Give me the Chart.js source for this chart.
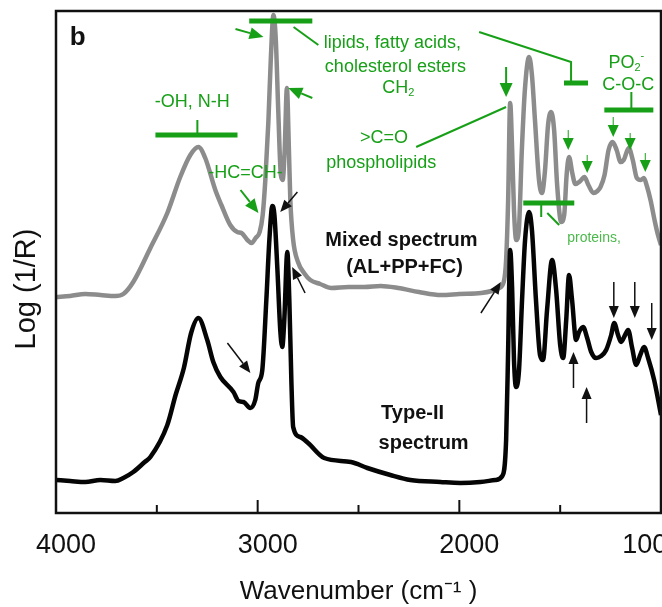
<!DOCTYPE html>
<html>
<head>
<meta charset="utf-8">
<script src="https://cdn.jsdelivr.net/npm/chart.js@4"></script>
<style>
  html, body { margin: 0; padding: 0; background: #fff; }
</style>
</head>
<body>
<canvas id="spectrum" width="662" height="607"></canvas>
<script>
// DATA (Log(1/R), arbitrary units)
const mixedWavenumbers = [4000, 3930, 3855, 3780, 3706, 3666, 3617, 3532, 3448, 3384, 3334, 3294, 3260, 3210, 3180, 3136, 3101, 3080, 3051, 3030, 3010, 2990, 2975, 2962, 2947, 2935, 2922, 2910, 2898, 2885, 2876, 2866, 2855, 2845, 2838, 2824, 2800, 2770, 2739, 2690, 2635, 2550, 2471, 2390, 2303, 2200, 2090, 2000, 1892, 1840, 1803, 1780, 1768, 1758, 1748, 1738, 1729, 1718, 1705, 1690, 1675, 1654, 1640, 1625, 1605, 1590, 1575, 1560, 1545, 1530, 1515, 1495, 1480, 1468, 1456, 1440, 1425, 1400, 1380, 1360, 1335, 1315, 1300, 1280, 1260, 1240, 1220, 1200, 1185, 1160, 1140, 1120, 1100, 1085, 1070, 1052, 1030, 1015, 1000];
const mixedValues = [2.16, 2.17, 2.19, 2.18, 2.17, 2.19, 2.31, 2.65, 3.00, 3.36, 3.58, 3.66, 3.55, 3.23, 3.08, 2.88, 2.81, 2.80, 2.73, 2.70, 2.75, 2.81, 2.98, 3.33, 3.91, 4.53, 4.98, 4.73, 4.03, 3.38, 3.33, 3.63, 4.25, 3.63, 3.13, 2.73, 2.51, 2.40, 2.33, 2.29, 2.25, 2.26, 2.26, 2.27, 2.25, 2.21, 2.18, 2.19, 2.20, 2.22, 2.25, 2.31, 2.53, 3.13, 4.10, 3.63, 3.03, 2.73, 2.83, 3.63, 4.23, 4.56, 4.38, 3.93, 3.33, 3.20, 3.43, 3.88, 4.01, 3.83, 3.28, 2.91, 2.98, 3.38, 3.56, 3.40, 3.29, 3.32, 3.36, 3.28, 3.20, 3.22, 3.26, 3.38, 3.63, 3.71, 3.63, 3.51, 3.53, 3.65, 3.53, 3.35, 3.33, 3.35, 3.27, 3.13, 2.91, 2.78, 2.68];

const typeIIWavenumbers = [4000, 3930, 3855, 3780, 3706, 3666, 3617, 3560, 3532, 3448, 3407, 3366, 3330, 3294, 3250, 3220, 3185, 3120, 3095, 3070, 3037, 3012, 2997, 2977, 2957, 2942, 2927, 2917, 2902, 2888, 2878, 2868, 2853, 2843, 2833, 2824, 2789, 2750, 2670, 2537, 2456, 2342, 2243, 2094, 1995, 1896, 1822, 1787, 1768, 1758, 1748, 1738, 1729, 1719, 1704, 1689, 1674, 1654, 1640, 1620, 1600, 1585, 1565, 1540, 1520, 1500, 1485, 1470, 1456, 1441, 1421, 1406, 1386, 1366, 1346, 1322, 1297, 1272, 1247, 1232, 1213, 1198, 1178, 1163, 1143, 1123, 1103, 1084, 1064, 1034, 1014, 1000];
const typeIIValues = [0.33, 0.32, 0.31, 0.33, 0.32, 0.35, 0.41, 0.51, 0.56, 0.88, 1.18, 1.45, 1.80, 1.95, 1.73, 1.51, 1.36, 1.21, 1.12, 1.11, 1.05, 1.13, 1.30, 1.43, 2.13, 2.73, 3.07, 2.98, 2.43, 1.83, 1.66, 1.93, 2.61, 2.13, 1.33, 0.86, 0.76, 0.70, 0.55, 0.51, 0.45, 0.38, 0.33, 0.31, 0.30, 0.31, 0.33, 0.37, 0.73, 1.63, 2.63, 2.23, 1.53, 1.26, 1.43, 2.13, 2.73, 3.01, 2.83, 2.13, 1.58, 1.53, 2.03, 2.53, 2.23, 1.68, 1.55, 1.93, 2.38, 2.13, 1.73, 1.81, 1.86, 1.75, 1.61, 1.55, 1.57, 1.63, 1.78, 1.90, 1.78, 1.71, 1.78, 1.83, 1.65, 1.48, 1.58, 1.66, 1.55, 1.33, 1.13, 0.98];

const majorTicks = [4000, 3000, 2000, 1000];
const minorTicks = [3500, 2500, 1500];

const GREEN = "#17a017";
const FONT = '"Liberation Sans", Arial, sans-serif';

// annotation positions are in data units: [wavenumber, Log(1/R)]
const labels = [
  { parts: [["b"]], at: [3892, 4.75], size: 26, weight: "bold", color: "#111" },
  { parts: [["-OH, N-H"]], at: [3324, 4.11], size: 18, color: GREEN },
  { parts: [["-HC=CH-"]], at: [3060, 3.40], size: 18, color: GREEN },
  { parts: [["lipids, fatty acids,"]], at: [2332, 4.70], size: 18, color: GREEN },
  { parts: [["cholesterol esters"]], at: [2317, 4.46], size: 18, color: GREEN },
  { parts: [["CH"], ["2", "sub"]], at: [2302, 4.25], size: 18, color: GREEN },
  { parts: [[">C=O"]], at: [2373, 3.75], size: 18, color: GREEN },
  { parts: [["phospholipids"]], at: [2387, 3.50], size: 18, color: GREEN },
  { parts: [["PO"], ["2", "sub"], ["-", "sup"]], at: [1172, 4.50], size: 18, color: GREEN },
  { parts: [["C-O-C"]], at: [1162, 4.28], size: 18, color: GREEN },
  { parts: [["proteins,"]], at: [1332, 2.75], size: 14, color: "#4cb84c" },
  { parts: [["Mixed spectrum"]], at: [2287, 2.73], size: 20, weight: "bold", color: "#111" },
  { parts: [["(AL+PP+FC)"]], at: [2272, 2.46], size: 20, weight: "bold", color: "#111" },
  { parts: [["Type-II"]], at: [2232, 1.00], size: 20, weight: "bold", color: "#111" },
  { parts: [["spectrum"]], at: [2177, 0.70], size: 20, weight: "bold", color: "#111" }
];

const greenLines = [
  { pts: [[3507, 3.78], [3100, 3.78]], w: 5 },
  { pts: [[3299, 3.93], [3299, 3.78]], w: 2 },
  { pts: [[3042, 4.92], [2729, 4.92]], w: 5 },
  { pts: [[2822, 4.86], [2699, 4.68]], w: 2 },
  { pts: [[1902, 4.81], [1446, 4.51], [1446, 4.30]], w: 2 },
  { pts: [[1481, 4.30], [1362, 4.30]], w: 5 },
  { pts: [[1147, 4.21], [1147, 4.03]], w: 2 },
  { pts: [[1281, 4.03], [1038, 4.03]], w: 5 },
  { pts: [[1768, 4.06], [2214, 3.66]], w: 2 },
  { pts: [[1683, 3.10], [1430, 3.10]], w: 5 },
  { pts: [[1594, 3.10], [1594, 2.96]], w: 2 },
  { pts: [[1564, 3.00], [1505, 2.88]], w: 2 }
];

const arrows = [
  // green, big
  { from: [3110, 4.84], to: [2971, 4.76], color: GREEN, stem: 2, head: [14, 12] },
  { from: [2729, 4.15], to: [2848, 4.25], color: GREEN, stem: 2, head: [14, 12] },
  { from: [3085, 3.23], to: [2996, 3.00], color: GREEN, stem: 2, head: [14, 12] },
  { from: [1768, 4.46], to: [1768, 4.16], color: GREEN, stem: 2, head: [14, 13] },
  // green, small
  { from: [1460, 3.83], to: [1460, 3.63], color: GREEN, stem: 1, head: [12, 11] },
  { from: [1366, 3.58], to: [1366, 3.40], color: GREEN, stem: 1, head: [12, 11] },
  { from: [1237, 3.96], to: [1237, 3.76], color: GREEN, stem: 1, head: [12, 11] },
  { from: [1153, 3.80], to: [1153, 3.63], color: GREEN, stem: 1, head: [12, 11] },
  { from: [1078, 3.60], to: [1078, 3.41], color: GREEN, stem: 1, head: [12, 11] },
  // black
  { from: [3150, 1.70], to: [3036, 1.40], color: "#111", stem: 1.5, head: [12, 10] },
  { from: [2803, 3.21], to: [2888, 3.01], color: "#111", stem: 1.5, head: [12, 10] },
  { from: [2765, 2.20], to: [2829, 2.46], color: "#111", stem: 1.5, head: [12, 10] },
  { from: [1893, 2.00], to: [1794, 2.31], color: "#111", stem: 1.5, head: [12, 10] },
  { from: [1234, 2.31], to: [1234, 1.95], color: "#111", stem: 1.5, head: [12, 10] },
  { from: [1130, 2.31], to: [1130, 1.95], color: "#111", stem: 1.5, head: [12, 10] },
  { from: [1046, 2.10], to: [1046, 1.73], color: "#111", stem: 1.5, head: [12, 10] },
  { from: [1434, 1.25], to: [1434, 1.61], color: "#111", stem: 1.5, head: [12, 10] },
  { from: [1369, 0.90], to: [1369, 1.26], color: "#111", stem: 1.5, head: [12, 10] }
];

function toPoints(xs, ys) {
  return xs.map((x, i) => ({ x: x, y: ys[i] }));
}

function drawRich(ctx, item, x, y) {
  const size = item.size;
  const weight = item.weight || "normal";
  const fontFor = k => weight + " " + (k ? Math.round(size * 0.62) : size) + "px " + FONT;
  let total = 0;
  item.parts.forEach(([t, k]) => { ctx.font = fontFor(k); total += ctx.measureText(t).width; });
  let cx = x - total / 2;
  ctx.fillStyle = item.color;
  ctx.textAlign = "left";
  ctx.textBaseline = "middle";
  item.parts.forEach(([t, k]) => {
    ctx.font = fontFor(k);
    const dy = k === "sub" ? size * 0.3 : (k === "sup" ? -size * 0.38 : 0);
    ctx.fillText(t, cx, y + dy);
    cx += ctx.measureText(t).width;
  });
}

function drawArrow(ctx, x1, y1, x2, y2, color, stem, headLen, headW) {
  const a = Math.atan2(y2 - y1, x2 - x1);
  const bx = x2 - headLen * Math.cos(a), by = y2 - headLen * Math.sin(a);
  ctx.strokeStyle = color;
  ctx.lineWidth = stem;
  ctx.beginPath();
  ctx.moveTo(x1, y1);
  ctx.lineTo(bx, by);
  ctx.stroke();
  ctx.fillStyle = color;
  ctx.beginPath();
  ctx.moveTo(x2, y2);
  ctx.lineTo(bx + headW / 2 * Math.sin(a), by - headW / 2 * Math.cos(a));
  ctx.lineTo(bx - headW / 2 * Math.sin(a), by + headW / 2 * Math.cos(a));
  ctx.closePath();
  ctx.fill();
}

// frame, inward ticks, y title and all the figure notes
const figurePlugin = {
  id: "figureNotes",
  afterDraw(chart) {
    const ctx = chart.ctx;
    const area = chart.chartArea;
    const xs = chart.scales.x, ys = chart.scales.y;
    const px = w => xs.getPixelForValue(w);
    const py = v => ys.getPixelForValue(v);

    ctx.save();
    ctx.strokeStyle = "#111";
    ctx.lineWidth = 2.5;
    ctx.strokeRect(area.left, area.top, area.right - area.left, area.bottom - area.top);

    ctx.lineWidth = 2;
    majorTicks.concat(minorTicks).forEach(t => {
      const len = majorTicks.includes(t) ? 13 : 8;
      ctx.beginPath();
      ctx.moveTo(px(t), area.bottom);
      ctx.lineTo(px(t), area.bottom - len);
      ctx.stroke();
    });

    // y axis title
    ctx.save();
    ctx.translate(area.left - 29, py(2.24));
    ctx.rotate(-Math.PI / 2);
    ctx.font = "29px " + FONT;
    ctx.fillStyle = "#111";
    ctx.textAlign = "center";
    ctx.textBaseline = "middle";
    ctx.fillText("Log (1/R)", 0, 0);
    ctx.restore();

    ctx.lineCap = "butt";
    greenLines.forEach(l => {
      ctx.strokeStyle = GREEN;
      ctx.lineWidth = l.w;
      ctx.beginPath();
      l.pts.forEach(([w, v], i) => i ? ctx.lineTo(px(w), py(v)) : ctx.moveTo(px(w), py(v)));
      ctx.stroke();
    });

    arrows.forEach(a => {
      drawArrow(ctx, px(a.from[0]), py(a.from[1]), px(a.to[0]), py(a.to[1]), a.color, a.stem, a.head[0], a.head[1]);
    });

    labels.forEach(l => drawRich(ctx, l, px(l.at[0]), py(l.at[1])));
    ctx.restore();
  }
};

new Chart(document.getElementById("spectrum"), {
  type: "line",
  data: {
    datasets: [
      {
        label: "Type-II spectrum",
        data: toPoints(typeIIWavenumbers, typeIIValues),
        borderColor: "#050505",
        borderWidth: 4.5,
        pointRadius: 0,
        cubicInterpolationMode: "monotone",
        borderJoinStyle: "round"
      },
      {
        label: "Mixed spectrum (AL+PP+FC)",
        data: toPoints(mixedWavenumbers, mixedValues),
        borderColor: "#8c8c8c",
        borderWidth: 4.5,
        pointRadius: 0,
        cubicInterpolationMode: "monotone",
        borderJoinStyle: "round"
      }
    ]
  },
  options: {
    responsive: false,
    animation: false,
    events: [],
    layout: { autoPadding: false, padding: { top: 11, right: 1, left: 0, bottom: 0 } },
    plugins: { legend: { display: false }, tooltip: { enabled: false } },
    scales: {
      x: {
        type: "linear",
        min: 1000,
        max: 4000,
        reverse: true,
        grid: { display: false },
        border: { display: false },
        // fixed axis band; no extra side padding for the clipped last label
        afterFit: s => { s.height = 94; s.paddingLeft = 0; s.paddingRight = 0; },
        afterBuildTicks: s => { s.ticks = majorTicks.map(v => ({ value: v })); },
        ticks: {
          autoSkip: false,
          maxRotation: 0,
          padding: 8,
          labelOffset: 10,
          color: "#111",
          font: { family: FONT, size: 27 },
          // last label sits partly off the canvas, as in the figure
          callback: v => v === 1000 ? "1000\u00a0\u00a0\u00a0\u00a0\u00a0" : String(v)
        },
        title: {
          display: true,
          text: "Wavenumber (cm\u207b\u00b9 )",
          color: "#111",
          font: { family: FONT, size: 26 },
          padding: { top: 0, bottom: 0 }
        }
      },
      y: {
        min: 0,
        max: 5.02,
        grid: { display: false },
        border: { display: false },
        ticks: { display: false },
        afterFit: s => { s.width = 56; }
      }
    }
  },
  plugins: [figurePlugin]
});
</script>
</body>
</html>
